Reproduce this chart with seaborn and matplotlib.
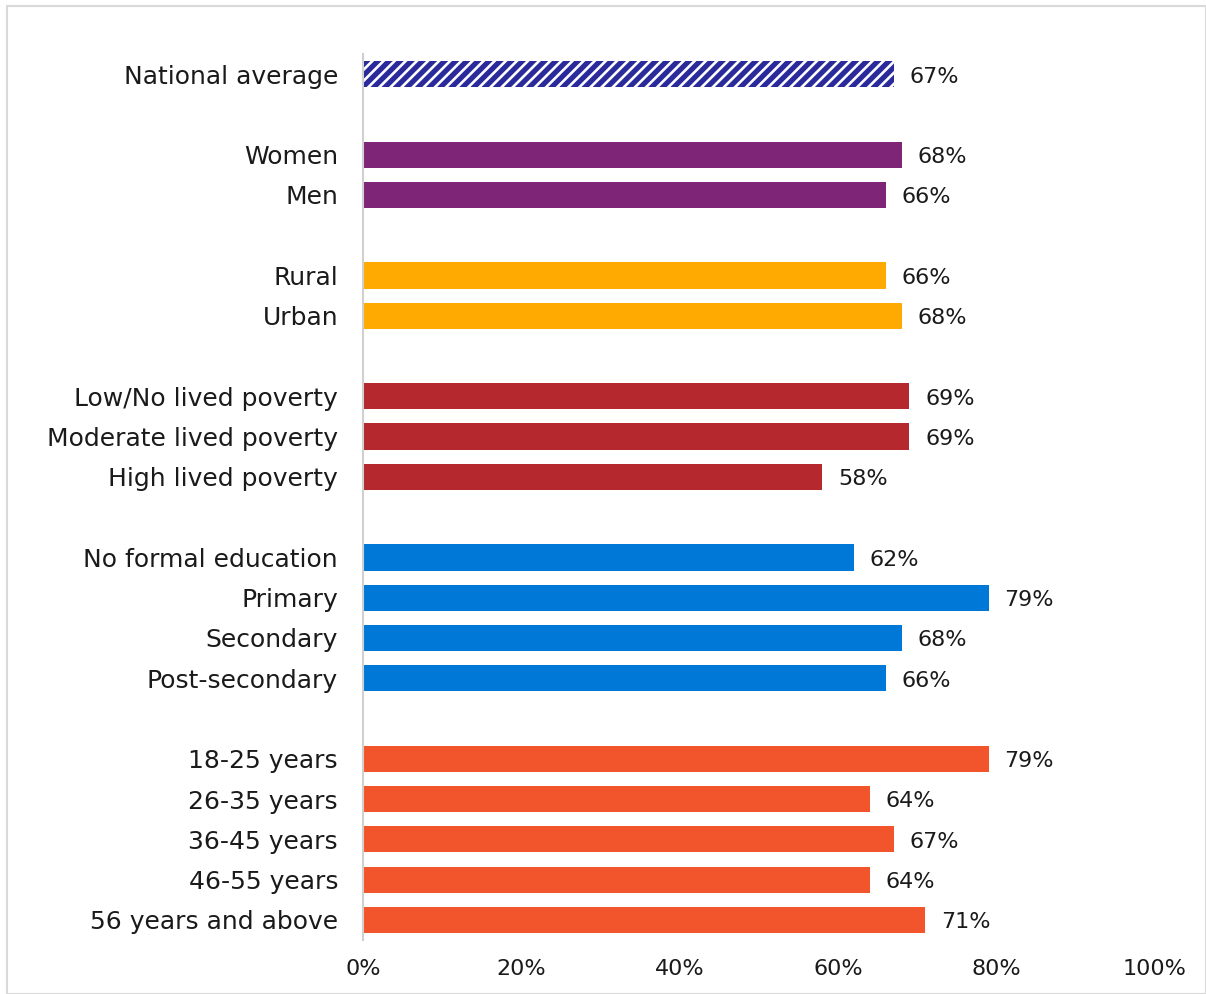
import matplotlib
matplotlib.use("Agg")
import matplotlib.pyplot as plt
import seaborn as sns
import pandas as pd
from matplotlib.patches import Rectangle

# Share of respondents by demographic group
labels = [
    "National average",
    "Women", "Men",
    "Rural", "Urban",
    "Low/No lived poverty", "Moderate lived poverty", "High lived poverty",
    "No formal education", "Primary", "Secondary", "Post-secondary",
    "18-25 years", "26-35 years", "36-45 years", "46-55 years", "56 years and above",
]
values = [67, 68, 66, 66, 68, 69, 69, 58, 62, 79, 68, 66, 79, 64, 67, 64, 71]
groups = ["National", "Gender", "Gender", "Location", "Location",
          "Poverty", "Poverty", "Poverty",
          "Education", "Education", "Education", "Education",
          "Age", "Age", "Age", "Age", "Age"]
# row slots, leaving one empty slot between groups
rows = [0, 2, 3, 5, 6, 8, 9, 10, 12, 13, 14, 15, 17, 18, 19, 20, 21]
x_ticks = [0, 20, 40, 60, 80, 100]

palette = {
    "National": "#2A2A9A",
    "Gender": "#7F2577",
    "Location": "#FFAA00",
    "Poverty": "#B5282E",
    "Education": "#0078D7",
    "Age": "#F2552C",
}

df = pd.DataFrame({"label": labels, "value": values, "group": groups, "row": rows})

sns.set_theme(style="white")
plt.rcParams["font.family"] = ["DejaVu Sans"]
plt.rcParams["hatch.linewidth"] = 1.9

FS = 16
TXT = "#1a1a1a"

fig = plt.figure(figsize=(12.06, 9.94), dpi=100)
ax = fig.add_axes([0.301, 0.0543, 0.9577 - 0.301, 0.9457 - 0.0543])

sns.barplot(data=df, x="value", y="row", hue="group", palette=palette,
            orient="h", native_scale=True, dodge=False, width=0.65,
            legend=False, saturation=1, linewidth=0, ax=ax)

# hatch the national average bar
for patch in ax.patches:
    y_mid = patch.get_y() + patch.get_height() / 2
    if abs(y_mid - rows[0]) < 0.01:
        patch.set_hatch("///")
        patch.set_edgecolor("white")
        patch.set_linewidth(0)

for r, v in zip(rows, values):
    ax.text(v + 2.0, r + 0.06, f"{v}%", va="center", ha="left",
            fontsize=FS, color=TXT)

ax.set_xlim(0, 100)
ax.set_ylim(21.5, -0.5)
ax.set_xticks(x_ticks)
ax.set_xticklabels([f"{t}%" for t in x_ticks])
ax.set_yticks(rows)
ax.set_yticklabels(labels)
ax.set_xlabel("")
ax.set_ylabel("")
ax.tick_params(axis="x", length=0, pad=14, labelsize=FS, labelcolor=TXT)
ax.tick_params(axis="y", length=0, pad=18, labelsize=18, labelcolor=TXT)

for side in ["top", "right", "bottom"]:
    ax.spines[side].set_visible(False)
ax.spines["left"].set_color("#D0D0D0")
ax.spines["left"].set_linewidth(1.5)

fig.patches.append(Rectangle((0.006, 0.0), 0.994, 0.994, transform=fig.transFigure,
                             fill=False, edgecolor="#D9D9D9", linewidth=1.5))

fig.savefig("out.png", dpi=100)
